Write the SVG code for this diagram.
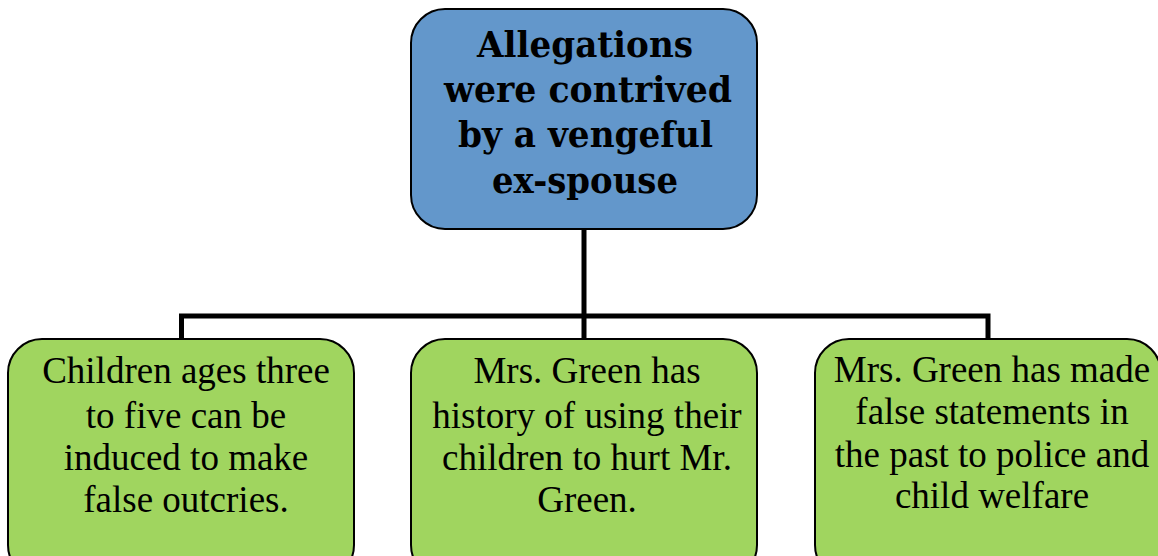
<svg xmlns="http://www.w3.org/2000/svg" width="1158" height="556" viewBox="0 0 1158 556">
<style>
.top{fill:#6397CB;stroke:#000;stroke-width:2}
.leaf{fill:#A0D55F;stroke:#000;stroke-width:2}
.tt{font-family:"DejaVu Serif","Liberation Serif",serif;font-weight:bold;font-size:35px;fill:#000;text-anchor:middle}
.lt{font-family:"Liberation Serif","Times New Roman",serif;font-size:37px;fill:#000;text-anchor:middle}
.conn{fill:none;stroke:#000;stroke-width:5}
</style>
<rect width="1158" height="556" fill="#fff"/>
<g id="connectors">
<path class="conn" d="M584 229V316M181.5 339V316H988V339M584 316V339"/>
</g>
<g id="root">
<rect class="top" x="411" y="9" width="346" height="220" rx="34"/>
<text class="tt" x="585" y="57" textLength="216" lengthAdjust="spacingAndGlyphs">Allegations</text>
<text class="tt" x="588" y="102" textLength="288" lengthAdjust="spacingAndGlyphs">were contrived</text>
<text class="tt" x="585.5" y="147" textLength="255" lengthAdjust="spacingAndGlyphs">by a vengeful</text>
<text class="tt" x="585" y="193" textLength="186" lengthAdjust="spacingAndGlyphs">ex-spouse</text>
</g>
<g id="child1">
<rect class="leaf" x="8" y="339" width="346" height="240" rx="34"/>
<text class="lt" x="186" y="383">Children ages three</text>
<text class="lt" x="186" y="428">to five can be</text>
<text class="lt" x="186" y="470">induced to make</text>
<text class="lt" x="186" y="512">false outcries.</text>
</g>
<g id="child2">
<rect class="leaf" x="411" y="339" width="346" height="240" rx="34"/>
<text class="lt" x="587" y="383">Mrs. Green has</text>
<text class="lt" x="587" y="428">history of using their</text>
<text class="lt" x="587" y="470">children to hurt Mr.</text>
<text class="lt" x="587" y="512">Green.</text>
</g>
<g id="child3">
<rect class="leaf" x="815" y="339" width="346" height="240" rx="34"/>
<text class="lt" x="992" y="382">Mrs. Green has made</text>
<text class="lt" x="992" y="424">false statements in</text>
<text class="lt" x="992" y="467">the past to police and</text>
<text class="lt" x="992" y="508">child welfare</text>
</g>
</svg>
